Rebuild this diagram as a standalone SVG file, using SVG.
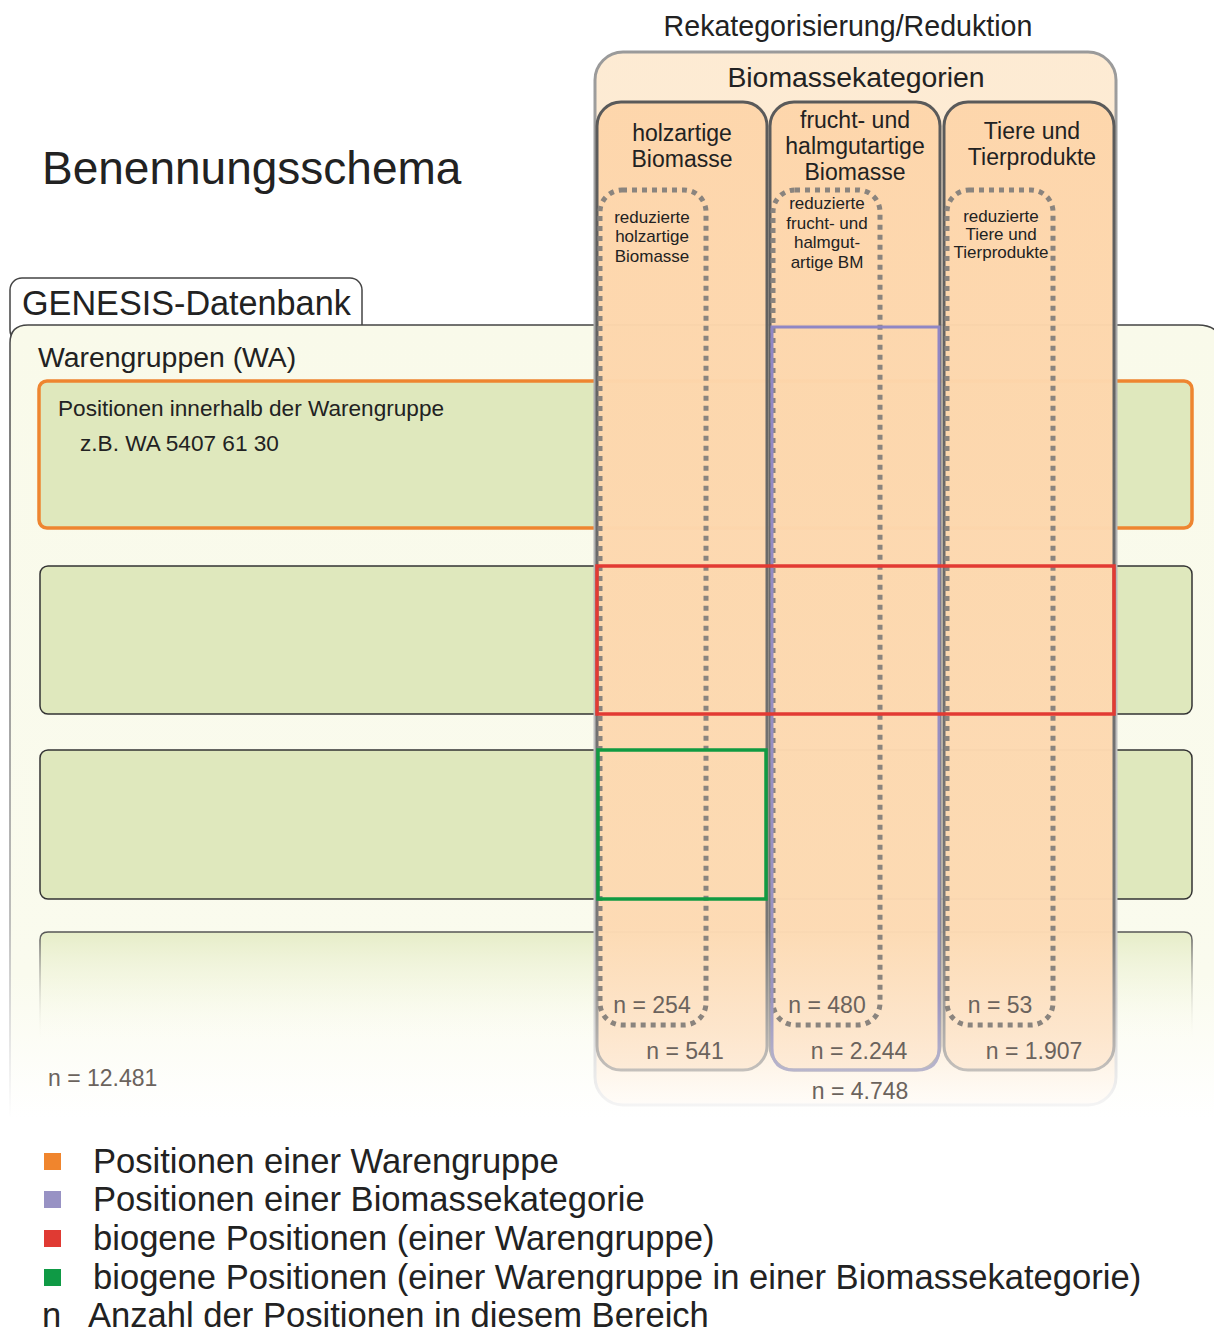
<svg xmlns="http://www.w3.org/2000/svg" width="1214" height="1332" viewBox="0 0 1214 1332">
<defs>
<style>
text{font-family:"Liberation Sans",Arial,sans-serif;fill:#222}
.n{fill:#6b635d;font-size:23px}
.red{font-size:17px;text-anchor:middle}
.ct{font-size:23px;text-anchor:middle}
.leg{font-size:34.6px}
.row{fill:#dfe8bd;stroke:#333;stroke-width:1.5}
.col{fill:url(#colGrad);fill-opacity:0.8;stroke:url(#colStroke);stroke-width:3}
.dot{fill:none;stroke:#8a847e;stroke-width:5;stroke-dasharray:5 5}
</style>
<linearGradient id="panelGrad" gradientUnits="userSpaceOnUse" x1="0" y1="325" x2="0" y2="1118">
<stop offset="0" stop-color="#f9faea"/><stop offset="0.82" stop-color="#fafbee"/><stop offset="1" stop-color="#ffffff"/>
</linearGradient>
<linearGradient id="panelStroke" gradientUnits="userSpaceOnUse" x1="0" y1="325" x2="0" y2="1118">
<stop offset="0" stop-color="#444"/><stop offset="0.75" stop-color="#aaa"/><stop offset="1" stop-color="#fff"/>
</linearGradient>
<linearGradient id="row4Grad" gradientUnits="userSpaceOnUse" x1="0" y1="932" x2="0" y2="1040">
<stop offset="0" stop-color="#e6edc8"/><stop offset="1" stop-color="#fafbee" stop-opacity="0"/>
</linearGradient>
<linearGradient id="row4Stroke" gradientUnits="userSpaceOnUse" x1="0" y1="932" x2="0" y2="1040">
<stop offset="0" stop-color="#555"/><stop offset="1" stop-color="#fafbee" stop-opacity="0"/>
</linearGradient>
<linearGradient id="colGrad" gradientUnits="userSpaceOnUse" x1="0" y1="102" x2="0" y2="1072">
<stop offset="0" stop-color="#fdd1a2"/><stop offset="0.85" stop-color="#fdd6ab"/><stop offset="1" stop-color="#fde9d4"/>
</linearGradient>
<linearGradient id="colStroke" gradientUnits="userSpaceOnUse" x1="0" y1="102" x2="0" y2="1072">
<stop offset="0" stop-color="#5a5a5a"/><stop offset="0.85" stop-color="#777"/><stop offset="1" stop-color="#c4c0bc"/>
</linearGradient>
<linearGradient id="outerGrad" gradientUnits="userSpaceOnUse" x1="0" y1="52" x2="0" y2="1106">
<stop offset="0" stop-color="#fde8cd"/><stop offset="0.93" stop-color="#fdecd8"/><stop offset="1" stop-color="#fffcf8"/>
</linearGradient>
<linearGradient id="outerStroke" gradientUnits="userSpaceOnUse" x1="0" y1="52" x2="0" y2="1106">
<stop offset="0" stop-color="#9a9a9a"/><stop offset="0.9" stop-color="#cfcfcf"/><stop offset="1" stop-color="#f4f4f4"/>
</linearGradient>
<linearGradient id="purpleStroke" gradientUnits="userSpaceOnUse" x1="0" y1="327" x2="0" y2="1072">
<stop offset="0" stop-color="#8f86c4"/><stop offset="0.9" stop-color="#9a94c0"/><stop offset="1" stop-color="#b9b6cc"/>
</linearGradient>
</defs>

<rect width="1214" height="1332" fill="#ffffff"/>

<g id="title">
<text x="42" y="184" font-size="46">Benennungsschema</text>
<text x="848" y="36" font-size="28.6" text-anchor="middle">Rekategorisierung/Reduktion</text>
</g>

<g id="genesis-tab">
<rect x="10" y="278" width="352" height="64" rx="12" fill="#ffffff" stroke="#444" stroke-width="1.5"/>
<text x="22" y="315" font-size="34.2">GENESIS-Datenbank</text>
</g>

<g id="panel-warengruppen">
<path d="M10,1118 V343 Q10,325 28,325 H1198 Q1222,325 1222,349 V1118 Z" fill="url(#panelGrad)"/>
<path d="M10,1118 V343 Q10,325 28,325 H1198 Q1222,325 1222,349 V1118" fill="none" stroke="url(#panelStroke)" stroke-width="1.5"/>
<text x="38" y="367" font-size="28.4">Warengruppen (WA)</text>
</g>

<g id="row-positionen">
<rect x="39" y="381" width="1153" height="147" rx="8" fill="#dfe8bd" stroke="#ee8530" stroke-width="3.5"/>
<text x="58" y="416" font-size="22.6">Positionen innerhalb der Warengruppe</text>
<text x="80" y="451" font-size="22.6">z.B. WA 5407 61 30</text>
</g>
<g id="row-2"><rect class="row" x="40" y="566" width="1152" height="148" rx="8"/></g>
<g id="row-3"><rect class="row" x="40" y="750" width="1152" height="149" rx="8"/></g>
<g id="row-4">
<path d="M40,1040 V940 Q40,932 48,932 H1184 Q1192,932 1192,940 V1040 Z" fill="url(#row4Grad)"/>
<path d="M40,1040 V940 Q40,932 48,932 H1184 Q1192,932 1192,940 V1040" fill="none" stroke="url(#row4Stroke)" stroke-width="1.5"/>
</g>

<g id="biomassekategorien">
<rect x="595" y="52" width="521" height="1053" rx="28" fill="url(#outerGrad)" fill-opacity="0.88" stroke="url(#outerStroke)" stroke-width="3"/>
<text x="856" y="87" font-size="28.4" text-anchor="middle">Biomassekategorien</text>
<text class="n" x="860" y="1099" text-anchor="middle">n = 4.748</text>
</g>

<g id="col-holzartig">
<rect class="col" x="597" y="102" width="170" height="968" rx="24"/>
<text class="ct" x="682" y="141">holzartige</text>
<text class="ct" x="682" y="167">Biomasse</text>
<text class="n" x="685" y="1059" text-anchor="middle">n = 541</text>
</g>
<g id="col-frucht">
<rect class="col" x="770" y="102" width="170" height="968" rx="24"/>
<text class="ct" x="855" y="128">frucht- und</text>
<text class="ct" x="855" y="154">halmgutartige</text>
<text class="ct" x="855" y="180">Biomasse</text>
<text class="n" x="859" y="1059" text-anchor="middle">n = 2.244</text>
</g>
<g id="col-tiere">
<rect class="col" x="944" y="102" width="170" height="968" rx="24"/>
<text class="ct" x="1032" y="139">Tiere und</text>
<text class="ct" x="1032" y="165">Tierprodukte</text>
<text class="n" x="1034" y="1059" text-anchor="middle">n = 1.907</text>
</g>

<g id="red-holzartig">
<rect class="dot" x="600" y="190" width="106" height="835" rx="22"/>
<text class="red" x="652" y="223">reduzierte</text>
<text class="red" x="652" y="242">holzartige</text>
<text class="red" x="652" y="262">Biomasse</text>
<text class="n" x="652" y="1013" text-anchor="middle">n = 254</text>
</g>
<g id="red-frucht">
<rect class="dot" x="773" y="190" width="107" height="835" rx="22"/>
<text class="red" x="827" y="209">reduzierte</text>
<text class="red" x="827" y="229">frucht- und</text>
<text class="red" x="827" y="248">halmgut-</text>
<text class="red" x="827" y="268">artige BM</text>
<text class="n" x="827" y="1013" text-anchor="middle">n = 480</text>
</g>
<g id="red-tiere">
<rect class="dot" x="947" y="190" width="106" height="835" rx="22"/>
<text class="red" x="1001" y="222">reduzierte</text>
<text class="red" x="1001" y="240">Tiere und</text>
<text class="red" x="1001" y="258">Tierprodukte</text>
<text class="n" x="1000" y="1013" text-anchor="middle">n = 53</text>
</g>

<g id="highlights">
<path d="M772,327 V1048 Q772,1070 794,1070 H917 Q939,1070 939,1048 V327 Z" fill="none" stroke="url(#purpleStroke)" stroke-width="3"/>
<rect x="597" y="566" width="517" height="148" fill="none" stroke="#e23a33" stroke-width="3.5"/>
<rect x="598" y="750" width="168" height="149" fill="none" stroke="#109a42" stroke-width="3.5"/>
</g>

<g id="total">
<text class="n" x="48" y="1086">n = 12.481</text>
</g>

<g id="legend">
<rect x="44" y="1153" width="17" height="17" fill="#f0852d"/>
<text class="leg" x="93" y="1173">Positionen einer Warengruppe</text>
<rect x="44" y="1191" width="17" height="17" fill="#9892c4"/>
<text class="leg" x="93" y="1211">Positionen einer Biomassekategorie</text>
<rect x="44" y="1230" width="17" height="17" fill="#e03a33"/>
<text class="leg" x="93" y="1250">biogene Positionen (einer Warengruppe)</text>
<rect x="44" y="1269" width="17" height="17" fill="#0f9a45"/>
<text class="leg" x="93" y="1289">biogene Positionen (einer Warengruppe in einer Biomassekategorie)</text>
<text class="leg" x="42" y="1327">n</text>
<text class="leg" x="88" y="1327">Anzahl der Positionen in diesem Bereich</text>
</g>
</svg>
